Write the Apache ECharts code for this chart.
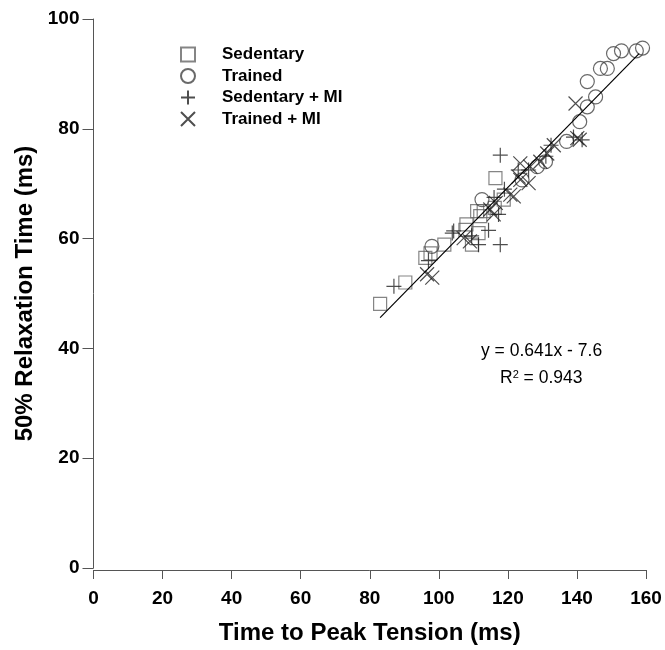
<!DOCTYPE html>
<html>
<head>
<meta charset="utf-8">
<script src="https://cdn.jsdelivr.net/npm/echarts@6/dist/echarts.min.js"></script>
<style>html,body{margin:0;padding:0;background:#fff}#c{width:665px;height:650px}</style>
</head>
<body>
<div id="c"></div>
<script>
// Data
var sedentary = [[83.0,48.1],[90.3,52.0],[96.1,56.5],[97.6,57.3],[101.6,58.9],[107.7,61.6],[108.0,62.6],[109.6,58.9],[111.1,65.0],[111.5,61.0],[112.0,64.1],[113.0,65.0],[116.4,71.0],[118.8,67.1],[116.2,65.6]];
var trained = [[98.0,58.6],[112.5,67.1],[124.1,70.7],[128.5,73.1],[130.9,74.0],[137.0,77.7],[140.8,81.3],[143.0,84.0],[143.0,88.6],[145.4,85.8],[146.8,91.0],[148.8,91.0],[150.6,93.7],[152.9,94.2],[157.2,94.2],[159.0,94.7]];
var sedentaryMI = [[87.0,51.3],[97.0,56.0],[103.9,61.0],[104.3,61.4],[109.5,60.5],[111.5,58.9],[114.4,61.5],[117.3,64.4],[117.8,75.2],[117.8,58.9],[116.0,67.5],[119.0,69.0],[123.0,72.5],[126.0,72.5],[131.0,75.0],[132.5,77.0],[139.0,78.5],[141.5,78.0]];
var trainedMI = [[96.6,53.5],[98.1,52.9],[107.2,60.1],[109.0,59.5],[114.9,65.3],[115.9,64.4],[116.5,66.5],[120.7,68.0],[121.7,67.7],[123.1,71.3],[123.6,70.7],[126.0,70.1],[123.6,73.7],[126.5,73.1],[129.4,74.0],[131.4,75.5],[133.3,77.0],[139.6,84.6],[140.1,78.3],[140.8,78.0]];
var fitLine = [[83.0,45.6],[158.0,93.7]];
var seriesNames = ['Sedentary','Trained','Sedentary + MI','Trained + MI'];
var xTicks = [0,20,40,60,80,100,120,140,160];
var yTicks = [0,20,40,60,80,100];
var eqText = 'y = 0.641x - 7.6';
var r2Value = '0.943';

var chart = echarts.init(document.getElementById('c'), null, {renderer:'canvas'});
var FONT = 'Liberation Sans, Arial, sans-serif';
function sty(c){ return {color:'rgba(0,0,0,0)', borderColor:c, borderWidth:1.2}; }
var plusPath = 'path://M5,0L5,10M0,5L10,5';
var crossPath = 'path://M0,0L10,10M10,0L0,10';

var option = {
  animation:false,
  backgroundColor:'#fff',
  grid:{left:93.5, right:19, top:19, bottom:77, containLabel:false},
  legend:{
    orient:'vertical', left:175, top:41, itemWidth:14, itemHeight:14, itemGap:4.5,
    data:seriesNames, selectedMode:false,
    textStyle:{fontFamily:FONT, fontWeight:'bold', fontSize:17, lineHeight:17, color:'#000', padding:[0,0,0,22]}
  },
  xAxis:{
    type:'value', min:0, max:160, interval:20,
    name:'Time to Peak Tension (ms)', nameLocation:'middle', nameGap:51,
    nameTextStyle:{fontFamily:FONT, fontWeight:'bold', fontSize:24, color:'#000'},
    axisLine:{show:true, onZero:false, lineStyle:{color:'#555', width:1}},
    axisTick:{show:true, inside:false, length:9, lineStyle:{color:'#555'}},
    axisLabel:{fontFamily:FONT, fontWeight:'bold', fontSize:19, color:'#000', margin:19,
      formatter:function(v){return xTicks.indexOf(v)>=0? String(v):'';}},
    splitLine:{show:false}, offset:2
  },
  yAxis:{
    type:'value', min:0, max:100, interval:20,
    name:'50% Relaxation Time (ms)', nameLocation:'middle', nameGap:55, nameRotate:90,
    nameTextStyle:{fontFamily:FONT, fontWeight:'bold', fontSize:24, color:'#000'},
    axisLine:{show:true, onZero:false, lineStyle:{color:'#555', width:1}},
    axisTick:{show:true, inside:false, length:11, lineStyle:{color:'#555'}},
    axisLabel:{fontFamily:FONT, fontWeight:'bold', fontSize:19, color:'#000', margin:14,
      formatter:function(v){return yTicks.indexOf(v)>=0? String(v):'';}},
    splitLine:{show:false}
  },
  series:[
    {name:seriesNames[0], type:'scatter', data:sedentary, symbol:'rect', symbolSize:13, itemStyle:sty('#666'), emphasis:{disabled:true}, z:3},
    {name:seriesNames[1], type:'scatter', data:trained, symbol:'circle', symbolSize:14, itemStyle:sty('#444'), emphasis:{disabled:true}, z:3},
    {name:seriesNames[2], type:'scatter', data:sedentaryMI, symbol:plusPath, symbolSize:15, itemStyle:sty('#222'), emphasis:{disabled:true}, z:3},
    {name:seriesNames[3], type:'scatter', data:trainedMI, symbol:crossPath, symbolSize:14, itemStyle:sty('#222'), emphasis:{disabled:true}, z:3},
    {name:'fit', type:'line', data:fitLine, symbol:'none', lineStyle:{color:'#000', width:1.2}, emphasis:{disabled:true}, z:4}
  ],
  graphic:[
    {type:'text', left:481, top:342, style:{text:eqText, font:'17.5px Liberation Sans, Arial, sans-serif', fill:'#000'}},
    {type:'text', left:500, top:369, style:{text:'R{sup|2} = '+r2Value, font:'17.5px Liberation Sans, Arial, sans-serif', fill:'#000',
      rich:{sup:{fontSize:11, verticalAlign:'top', padding:[0,0,8,0], fontFamily:FONT}}}}
  ]
};
chart.setOption(option);
</script>
</body>
</html>
